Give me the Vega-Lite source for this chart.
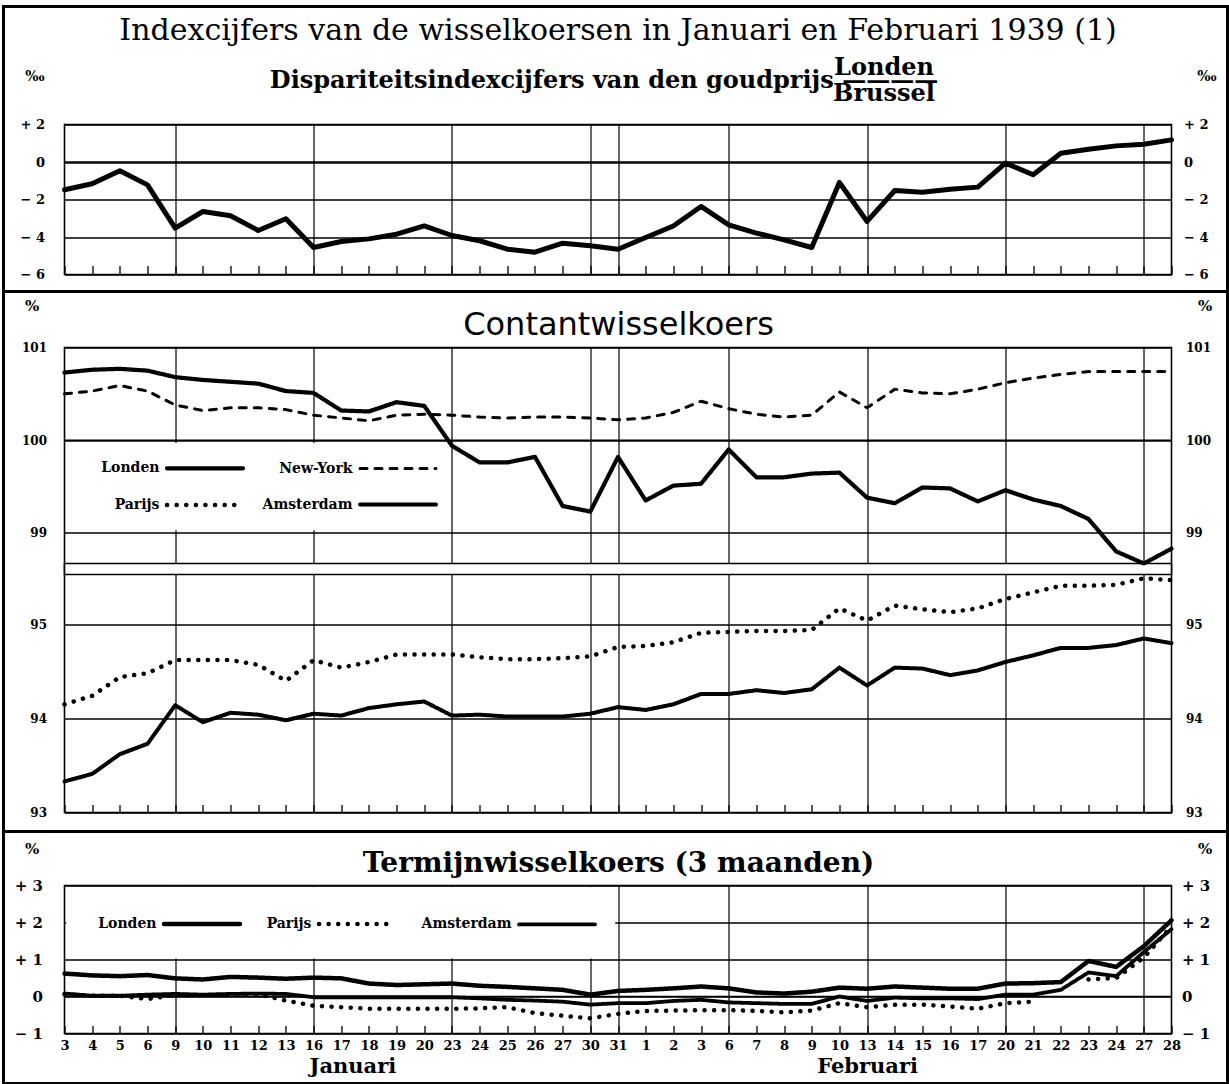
{
"$schema":"https://vega.github.io/schema/vega-lite/v6.json",
"background":"white",
"padding":{"left":0.5,"top":3.5,"right":0,"bottom":0},
"bounds":"flush",
"spacing":73,
"datasets":{
"cash":[
{"i":0,"Londen":100.73,"New-York":100.50,"Parijs":94.15,"Amsterdam":93.33},
{"i":1,"Londen":100.76,"New-York":100.53,"Parijs":94.24,"Amsterdam":93.41},
{"i":2,"Londen":100.77,"New-York":100.59,"Parijs":94.44,"Amsterdam":93.62},
{"i":3,"Londen":100.75,"New-York":100.53,"Parijs":94.48,"Amsterdam":93.73},
{"i":4,"Londen":100.68,"New-York":100.38,"Parijs":94.62,"Amsterdam":94.14},
{"i":5,"Londen":100.65,"New-York":100.32,"Parijs":94.62,"Amsterdam":93.96},
{"i":6,"Londen":100.63,"New-York":100.35,"Parijs":94.62,"Amsterdam":94.06},
{"i":7,"Londen":100.61,"New-York":100.35,"Parijs":94.57,"Amsterdam":94.04},
{"i":8,"Londen":100.53,"New-York":100.33,"Parijs":94.40,"Amsterdam":93.98},
{"i":9,"Londen":100.51,"New-York":100.27,"Parijs":94.62,"Amsterdam":94.05},
{"i":10,"Londen":100.32,"New-York":100.24,"Parijs":94.54,"Amsterdam":94.03},
{"i":11,"Londen":100.31,"New-York":100.21,"Parijs":94.60,"Amsterdam":94.11},
{"i":12,"Londen":100.41,"New-York":100.27,"Parijs":94.68,"Amsterdam":94.15},
{"i":13,"Londen":100.37,"New-York":100.28,"Parijs":94.68,"Amsterdam":94.18},
{"i":14,"Londen":99.94,"New-York":100.27,"Parijs":94.68,"Amsterdam":94.03},
{"i":15,"Londen":99.76,"New-York":100.25,"Parijs":94.65,"Amsterdam":94.04},
{"i":16,"Londen":99.76,"New-York":100.24,"Parijs":94.63,"Amsterdam":94.02},
{"i":17,"Londen":99.82,"New-York":100.25,"Parijs":94.63,"Amsterdam":94.02},
{"i":18,"Londen":99.29,"New-York":100.25,"Parijs":94.64,"Amsterdam":94.02},
{"i":19,"Londen":99.23,"New-York":100.24,"Parijs":94.66,"Amsterdam":94.05},
{"i":20,"Londen":99.82,"New-York":100.22,"Parijs":94.76,"Amsterdam":94.12},
{"i":21,"Londen":99.35,"New-York":100.24,"Parijs":94.77,"Amsterdam":94.09},
{"i":22,"Londen":99.51,"New-York":100.30,"Parijs":94.81,"Amsterdam":94.15},
{"i":23,"Londen":99.53,"New-York":100.42,"Parijs":94.91,"Amsterdam":94.26},
{"i":24,"Londen":99.90,"New-York":100.34,"Parijs":94.92,"Amsterdam":94.26},
{"i":25,"Londen":99.60,"New-York":100.28,"Parijs":94.93,"Amsterdam":94.30},
{"i":26,"Londen":99.60,"New-York":100.25,"Parijs":94.93,"Amsterdam":94.27},
{"i":27,"Londen":99.64,"New-York":100.27,"Parijs":94.94,"Amsterdam":94.31},
{"i":28,"Londen":99.65,"New-York":100.52,"Parijs":95.17,"Amsterdam":94.54},
{"i":29,"Londen":99.38,"New-York":100.35,"Parijs":95.04,"Amsterdam":94.35},
{"i":30,"Londen":99.32,"New-York":100.55,"Parijs":95.20,"Amsterdam":94.54},
{"i":31,"Londen":99.49,"New-York":100.51,"Parijs":95.16,"Amsterdam":94.53},
{"i":32,"Londen":99.48,"New-York":100.50,"Parijs":95.13,"Amsterdam":94.46},
{"i":33,"Londen":99.34,"New-York":100.55,"Parijs":95.17,"Amsterdam":94.51},
{"i":34,"Londen":99.46,"New-York":100.62,"Parijs":95.27,"Amsterdam":94.60},
{"i":35,"Londen":99.36,"New-York":100.67,"Parijs":95.34,"Amsterdam":94.67},
{"i":36,"Londen":99.29,"New-York":100.71,"Parijs":95.41,"Amsterdam":94.75},
{"i":37,"Londen":99.15,"New-York":100.74,"Parijs":95.41,"Amsterdam":94.75},
{"i":38,"Londen":98.80,"New-York":100.74,"Parijs":95.42,"Amsterdam":94.78},
{"i":39,"Londen":98.67,"New-York":100.74,"Parijs":95.49,"Amsterdam":94.85},
{"i":40,"Londen":98.83,"New-York":100.74,"Parijs":95.47,"Amsterdam":94.80}
],
"fwd":[
{"i":0,"Londen":0.62,"Parijs":0.06,"Amsterdam":0.08},
{"i":1,"Londen":0.57,"Parijs":0.02,"Amsterdam":0.02},
{"i":2,"Londen":0.55,"Parijs":0.02,"Amsterdam":0.02},
{"i":3,"Londen":0.58,"Parijs":-0.07,"Amsterdam":0.05},
{"i":4,"Londen":0.49,"Parijs":0.04,"Amsterdam":0.07},
{"i":5,"Londen":0.46,"Parijs":0.03,"Amsterdam":0.05},
{"i":6,"Londen":0.53,"Parijs":0.06,"Amsterdam":0.07},
{"i":7,"Londen":0.51,"Parijs":0.06,"Amsterdam":0.08},
{"i":8,"Londen":0.48,"Parijs":-0.11,"Amsterdam":0.07},
{"i":9,"Londen":0.51,"Parijs":-0.25,"Amsterdam":-0.02},
{"i":10,"Londen":0.49,"Parijs":-0.29,"Amsterdam":-0.02},
{"i":11,"Londen":0.35,"Parijs":-0.33,"Amsterdam":-0.02},
{"i":12,"Londen":0.31,"Parijs":-0.33,"Amsterdam":-0.02},
{"i":13,"Londen":0.33,"Parijs":-0.33,"Amsterdam":-0.02},
{"i":14,"Londen":0.35,"Parijs":-0.33,"Amsterdam":-0.02},
{"i":15,"Londen":0.29,"Parijs":-0.32,"Amsterdam":-0.05},
{"i":16,"Londen":0.26,"Parijs":-0.29,"Amsterdam":-0.09},
{"i":17,"Londen":0.22,"Parijs":-0.45,"Amsterdam":-0.11},
{"i":18,"Londen":0.18,"Parijs":-0.52,"Amsterdam":-0.14},
{"i":19,"Londen":0.05,"Parijs":-0.59,"Amsterdam":-0.22},
{"i":20,"Londen":0.15,"Parijs":-0.47,"Amsterdam":-0.18},
{"i":21,"Londen":0.18,"Parijs":-0.39,"Amsterdam":-0.18},
{"i":22,"Londen":0.22,"Parijs":-0.38,"Amsterdam":-0.12},
{"i":23,"Londen":0.27,"Parijs":-0.37,"Amsterdam":-0.09},
{"i":24,"Londen":0.22,"Parijs":-0.37,"Amsterdam":-0.16},
{"i":25,"Londen":0.11,"Parijs":-0.39,"Amsterdam":-0.18},
{"i":26,"Londen":0.08,"Parijs":-0.43,"Amsterdam":-0.20},
{"i":27,"Londen":0.13,"Parijs":-0.38,"Amsterdam":-0.20},
{"i":28,"Londen":0.24,"Parijs":-0.18,"Amsterdam":0.00},
{"i":29,"Londen":0.21,"Parijs":-0.29,"Amsterdam":-0.12},
{"i":30,"Londen":0.27,"Parijs":-0.22,"Amsterdam":-0.03},
{"i":31,"Londen":0.24,"Parijs":-0.22,"Amsterdam":-0.05},
{"i":32,"Londen":0.21,"Parijs":-0.27,"Amsterdam":-0.05},
{"i":33,"Londen":0.21,"Parijs":-0.33,"Amsterdam":-0.07},
{"i":34,"Londen":0.35,"Parijs":-0.18,"Amsterdam":0.05},
{"i":35,"Londen":0.36,"Parijs":-0.14,"Amsterdam":0.05},
{"i":36,"Londen":0.39,"Parijs":null,"Amsterdam":0.18},
{"i":37,"Londen":0.96,"Parijs":0.46,"Amsterdam":0.65},
{"i":38,"Londen":0.80,"Parijs":0.50,"Amsterdam":0.55},
{"i":39,"Londen":1.36,"Parijs":1.05,"Amsterdam":1.20},
{"i":40,"Londen":2.06,"Parijs":1.90,"Amsterdam":1.82}
]
},
"resolve":{"scale":{"strokeDash":"independent","strokeWidth":"independent"},"legend":{"strokeDash":"independent","strokeWidth":"independent"}},
"vconcat":[
{
"width":1107,"height":150,
"title":{"text":"Indexcijfers van de wisselkoersen in Januari en Februari 1939 (1)","subtitle":["\u200b\u2003\u2003\u2003\u2003\u2003\u2003\u2003\u2003\u2003\u2003\u2003\u2003\u2003\u2003\u2003\u2003\u2003\u2003\u2003\u2003\u2003\u2003\u2006Londen","Dispariteitsindexcijfers van den goudprijs \u2014\u2014\u2014\u2014\u2003\u2006\u200b","\u200b\u2003\u2003\u2003\u2003\u2003\u2003\u2003\u2003\u2003\u2003\u2003\u2003\u2003\u2003\u2003\u2003\u2003\u2003\u2003\u2003\u2003\u2003\u2006Brussel"],"anchor":"middle","frame":"group","offset":-36,"font":"DejaVu Serif","fontSize":30,"fontWeight":"normal","color":"black","subtitleFont":"DejaVu Serif","subtitleFontSize":24,"subtitleFontWeight":"bold","subtitleColor":"black","subtitleLineHeight":13,"subtitlePadding":10},
"data":{"values":[
{"i":0,"v":-1.48},{"i":1,"v":-1.16},{"i":2,"v":-0.47},{"i":3,"v":-1.22},{"i":4,"v":-3.53},{"i":5,"v":-2.64},{"i":6,"v":-2.87},{"i":7,"v":-3.65},{"i":8,"v":-3.03},{"i":9,"v":-4.56},{"i":10,"v":-4.24},{"i":11,"v":-4.10},{"i":12,"v":-3.85},{"i":13,"v":-3.41},{"i":14,"v":-3.92},{"i":15,"v":-4.20},{"i":16,"v":-4.65},{"i":17,"v":-4.81},{"i":18,"v":-4.33},{"i":19,"v":-4.47},{"i":20,"v":-4.65},{"i":21,"v":-4.03},{"i":22,"v":-3.41},{"i":23,"v":-2.37},{"i":24,"v":-3.35},{"i":25,"v":-3.79},{"i":26,"v":-4.15},{"i":27,"v":-4.56},{"i":28,"v":-1.09},{"i":29,"v":-3.17},{"i":30,"v":-1.52},{"i":31,"v":-1.61},{"i":32,"v":-1.45},{"i":33,"v":-1.34},{"i":34,"v":-0.06},{"i":35,"v":-0.68},{"i":36,"v":0.47},{"i":37,"v":0.68},{"i":38,"v":0.86},{"i":39,"v":0.95},{"i":40,"v":1.18}
]},
"layer":[
{"mark":{"type":"line","color":"black","strokeWidth":5,"strokeJoin":"round","strokeCap":"round"},
"encoding":{
"x":{"field":"i","type":"quantitative","scale":{"domain":[0,40],"nice":false,"zero":false},"axis":{"values":[0,1,2,3,4,5,6,7,8,9,10,11,12,13,14,15,16,17,18,19,20,21,22,23,24,25,26,27,28,29,30,31,32,33,34,35,36,37,38,39,40],"grid":true,"gridWidth":1.2,"gridOpacity":{"condition":{"test":"indexof([4,9,14,19,20,24,29,34,39], datum.value) >= 0","value":1},"value":0},"ticks":true,"tickSize":-9,"tickWidth":1.3,"labels":false,"title":null}},
"y":{"field":"v","type":"quantitative","scale":{"domain":[-6,2],"nice":false,"zero":false},"axis":{"orient":"left","values":[-6,-4,-2,0,2],"grid":true,"gridWidth":1.6,"ticks":false,"labelExpr":"datum.value > 0 ? '+ ' + datum.value : (datum.value < 0 ? '\u2212 ' + (-datum.value) : '0')","labelFontSize":13,"labelPadding":20,"title":"\u2030","titleAngle":0,"titleX":-30,"titleY":-48,"titleFontSize":14,"titleAlign":"center","titleBaseline":"middle"}}
}},
{"data":{"values":[{}]},"mark":{"type":"rule","color":"black","strokeWidth":1.6},
"encoding":{"y":{"datum":0,"type":"quantitative","axis":{"orient":"right","values":[-6,-4,-2,0,2],"grid":false,"ticks":false,"labelExpr":"datum.value > 0 ? '+ ' + datum.value : (datum.value < 0 ? '\u2212 ' + (-datum.value) : '0')","labelFontSize":13,"labelPadding":12,"title":"\u2030","titleAngle":0,"titleX":35,"titleY":-48,"titleFontSize":14,"titleAlign":"center","titleBaseline":"middle"}}}}
],
"resolve":{"axis":{"y":"independent"}}
},
{
"width":1107,"height":465,
"layer":[
{"data":{"values":[{}]},"mark":{"type":"rect","color":"white"},
"encoding":{
"x":{"datum":0.06,"type":"quantitative","axis":{"orient":"top","labels":false,"ticks":false,"grid":false,"title":"Contantwisselkoers","titleFont":"DejaVu Sans","titleFontSize":32,"titleFontWeight":"normal","titleY":-13,"titleBaseline":"alphabetic"}},
"x2":{"datum":13.85},
"y":{"datum":99.03,"type":"quantitative","axis":null},
"y2":{"datum":99.97}
}},
{"data":{"values":[{}]},"mark":{"type":"rect","fill":"white","stroke":"black","strokeWidth":1.6},
"encoding":{
"x":{"datum":0,"type":"quantitative","axis":null},
"x2":{"datum":40},
"y":{"datum":95.53,"type":"quantitative","axis":null},
"y2":{"datum":98.67}
}},
{"data":{"name":"cash"},"transform":[{"fold":["Londen","New-York","Parijs","Amsterdam"],"as":["s","v"]}],
"mark":{"type":"line","color":"black","strokeJoin":"round","strokeCap":"round"},
"encoding":{
"x":{"field":"i","type":"quantitative","scale":{"domain":[0,40],"nice":false,"zero":false},"axis":{"values":[0,1,2,3,4,5,6,7,8,9,10,11,12,13,14,15,16,17,18,19,20,21,22,23,24,25,26,27,28,29,30,31,32,33,34,35,36,37,38,39,40],"grid":true,"gridWidth":1.2,"gridOpacity":{"condition":{"test":"indexof([4,9,14,19,20,24,29,34,39], datum.value) >= 0","value":1},"value":0},"ticks":true,"tickSize":-8,"tickWidth":1.3,"labels":false,"title":null}},
"y":{"field":"v","type":"quantitative","scale":{"domain":[93,95.53,98.67,101],"range":[465,227,216,0],"nice":false,"zero":false},"axis":{"orient":"left","values":[93,94,95,99,100,101],"grid":true,"gridWidth":1.6,"ticks":false,"labelFontSize":12,"labelPadding":18,"title":"%","titleAngle":0,"titleX":-33,"titleY":-42,"titleFontSize":15,"titleAlign":"center","titleBaseline":"middle"}},
"strokeDash":{"field":"s","type":"ordinal","scale":{"domain":["Londen","New-York","Parijs","Amsterdam"],"range":[[1,0],[7,8],[0.1,9.5],[1,0]]},"legend":{"orient":"none","legendX":128.5,"legendY":108.5,"title":null,"columns":2,"direction":"horizontal","padding":0,"symbolType":"M-4,0H4","symbolSize":361,"symbolStrokeColor":"black","labelFont":"DejaVu Serif","labelFontWeight":"bold","labelFontSize":14,"labelColor":"black","labelAlign":"right","labelOffset":-57.5,"columnPadding":10,"rowPadding":16,"encoding":{"symbols":{"strokeCap":{"value":"round"}}}}},
"strokeWidth":{"field":"s","type":"ordinal","scale":{"type":"ordinal","domain":["Londen","New-York","Parijs","Amsterdam"],"range":[4.2,3,4.5,4]},"legend":{"orient":"none","legendX":128.5,"legendY":108.5,"title":null,"columns":2,"direction":"horizontal","padding":0,"symbolType":"M-4,0H4","symbolSize":361,"symbolStrokeColor":"black","labelFont":"DejaVu Serif","labelFontWeight":"bold","labelFontSize":14,"labelColor":"black","labelAlign":"right","labelOffset":-57.5,"columnPadding":10,"rowPadding":16,"encoding":{"symbols":{"strokeCap":{"value":"round"}}}}}
}},
{"data":{"values":[{}]},"mark":{"type":"rule","color":"black","strokeWidth":1.6},
"encoding":{"y":{"datum":100,"type":"quantitative","axis":{"orient":"right","values":[93,94,95,99,100,101],"grid":false,"ticks":false,"labelFontSize":12,"labelPadding":14,"title":"%","titleAngle":0,"titleX":33,"titleY":-42,"titleFontSize":15,"titleAlign":"center","titleBaseline":"middle"}}}}
],
"resolve":{"axis":{"x":"independent","y":"independent"}}
},
{
"width":1107,"height":148,
"layer":[
{"data":{"values":[{}]},"mark":{"type":"rect","filled":false,"stroke":"black","strokeWidth":3,"clip":false},
"encoding":{
"x":{"datum":-2.204,"type":"quantitative","scale":{"domain":[0,40],"nice":false,"zero":false},"axis":{"orient":"bottom","values":[10.4,29],"labelExpr":"datum.value < 20 ? 'Januari' : 'Februari'","labelFontSize":21,"labelFontWeight":"bold","labelPadding":22,"ticks":false,"grid":false,"title":null}},
"x2":{"datum":42.024},
"y":{"datum":26.757,"type":"quantitative","scale":{"domain":[-1,3],"nice":false,"zero":false},"axis":null},
"y2":{"datum":-2.351}
}},
{"data":{"values":[{}]},"mark":{"type":"rule","color":"black","strokeWidth":3,"clip":false},
"encoding":{
"x":{"datum":-2.204,"type":"quantitative","axis":{"orient":"top","labels":false,"ticks":false,"grid":false,"title":"Termijnwisselkoers (3 maanden)","titleFont":"DejaVu Serif","titleFontSize":28,"titleFontWeight":"bold","titleY":-14,"titleBaseline":"alphabetic"}},
"x2":{"datum":42.024},
"y":{"datum":19.054,"type":"quantitative","axis":null}
}},
{"data":{"values":[{}]},"mark":{"type":"rule","color":"black","strokeWidth":3,"clip":false},
"encoding":{
"x":{"datum":-2.204,"type":"quantitative","axis":null},
"x2":{"datum":42.024},
"y":{"datum":4.459,"type":"quantitative","axis":null}
}},
{"data":{"values":[{}]},"mark":{"type":"rect","color":"white"},
"encoding":{
"x":{"datum":0.06,"type":"quantitative","axis":null},
"x2":{"datum":19.9},
"y":{"datum":1.03,"type":"quantitative","axis":null},
"y2":{"datum":2.96}
}},
{"data":{"name":"fwd"},"transform":[{"fold":["Londen","Parijs","Amsterdam"],"as":["s","v"]}],
"mark":{"type":"line","color":"black","strokeJoin":"round","strokeCap":"round","invalid":"break-paths-filter-domains"},
"encoding":{
"x":{"field":"i","type":"quantitative","scale":{"domain":[0,40],"nice":false,"zero":false},"axis":{"values":[0,1,2,3,4,5,6,7,8,9,10,11,12,13,14,15,16,17,18,19,20,21,22,23,24,25,26,27,28,29,30,31,32,33,34,35,36,37,38,39,40],"grid":true,"gridWidth":1.2,"gridOpacity":{"condition":{"test":"indexof([4,9,14,19,20,24,29,34,39], datum.value) >= 0","value":1},"value":0},"ticks":true,"tickSize":-8,"tickWidth":1.3,"labels":true,"labelExpr":"split('3,4,5,6,9,10,11,12,13,16,17,18,19,20,23,24,25,26,27,30,31,1,2,3,6,7,8,9,10,13,14,15,16,17,20,21,22,23,24,27,28', ',')[datum.value]","labelFontSize":13,"labelPadding":14,"title":null}},
"y":{"field":"v","type":"quantitative","scale":{"domain":[-1,3],"nice":false,"zero":false},"axis":{"orient":"left","values":[-1,0,1,2,3],"grid":true,"gridWidth":1.6,"ticks":false,"labelExpr":"datum.value > 0 ? '+ ' + datum.value : (datum.value < 0 ? '\u2212 ' + (-datum.value) : '0')","labelFontSize":15,"labelPadding":22,"title":"%","titleAngle":0,"titleX":-33,"titleY":-37,"titleFontSize":15,"titleAlign":"center","titleBaseline":"middle"}},
"strokeDash":{"field":"s","type":"ordinal","scale":{"domain":["Londen","Parijs","Amsterdam"],"range":[[1,0],[0.1,9.5],[1,0]]},"legend":{"orient":"none","legendX":125.5,"legendY":26.5,"title":null,"columns":3,"direction":"horizontal","padding":0,"symbolType":"M-4,0H4","symbolSize":361,"symbolStrokeColor":"black","labelFont":"DejaVu Serif","labelFontWeight":"bold","labelFontSize":14,"labelColor":"black","labelAlign":"right","labelOffset":-57.5,"columnPadding":17,"rowPadding":10,"encoding":{"symbols":{"strokeCap":{"value":"round"}}}}},
"strokeWidth":{"field":"s","type":"ordinal","scale":{"type":"ordinal","domain":["Londen","Parijs","Amsterdam"],"range":[4.5,4.5,3.8]},"legend":{"orient":"none","legendX":125.5,"legendY":26.5,"title":null,"columns":3,"direction":"horizontal","padding":0,"symbolType":"M-4,0H4","symbolSize":361,"symbolStrokeColor":"black","labelFont":"DejaVu Serif","labelFontWeight":"bold","labelFontSize":14,"labelColor":"black","labelAlign":"right","labelOffset":-57.5,"columnPadding":17,"rowPadding":10,"encoding":{"symbols":{"strokeCap":{"value":"round"}}}}}
}},
{"data":{"values":[{}]},"mark":{"type":"rule","color":"black","strokeWidth":1.6},
"encoding":{"y":{"datum":0,"type":"quantitative","axis":{"orient":"right","values":[-1,0,1,2,3],"grid":false,"ticks":false,"labelExpr":"datum.value > 0 ? '+ ' + datum.value : (datum.value < 0 ? '\u2212 ' + (-datum.value) : '0')","labelFontSize":15,"labelPadding":10,"title":"%","titleAngle":0,"titleX":33,"titleY":-37,"titleFontSize":15,"titleAlign":"center","titleBaseline":"middle"}}}}
],
"resolve":{"axis":{"x":"independent","y":"independent"}}
}
],
"config":{
"view":{"stroke":"black","strokeWidth":1.6},
"axis":{"domain":false,"labelFont":"DejaVu Serif","labelFontWeight":"bold","labelColor":"black","titleFont":"DejaVu Serif","titleFontWeight":"bold","titleColor":"black","gridColor":"black","tickColor":"black","labelFlush":false,"labelOverlap":false}
}
}
